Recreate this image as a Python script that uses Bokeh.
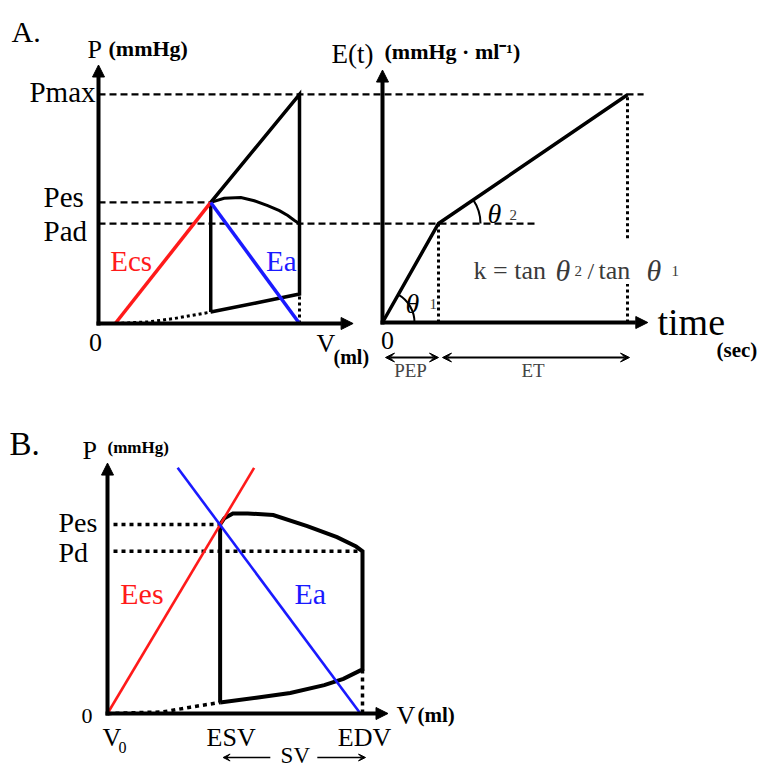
import math
from bokeh.plotting import figure
from bokeh.models import Range1d, Arrow, NormalHead, VeeHead
from bokeh.core.properties import value
from bokeh.embed import file_html
from bokeh.resources import INLINE

# ======================= DATA =======================
# Panel A (left): pressure-volume diagram (V in ml, P in mmHg)
A_V0, A_ESV, A_EDV = 10, 67, 120
A_PMAX, A_PES, A_PAD = 140, 74, 61
A_LOOP_V = [67, 94, 120, 120, 67, 67]          # filling -> isovolumic -> ejection line -> relaxation
A_LOOP_P = [7, 12.5, 18, 140, 74, 7]
A_EJECT_CURVE_V = [67, 75, 85, 93, 101, 108, 113, 117, 120]
A_EJECT_CURVE_P = [74, 76.5, 77, 75, 72, 69, 66, 63, 61]
A_EDPVR_V = [10, 30, 45, 67]
A_EDPVR_P = [0, 1, 3, 7]
A_EDV_DROP_P = [0, 18]
A_EES_V, A_EES_P = [10, 67], [0, 74]
A_EA_V, A_EA_P = [67, 120], [74, 0]
A_V_AXIS_MAX, A_P_AXIS_MAX = 152, 158

# Panel A (right): time-varying elastance (t in sec, E in mmHg/ml)
E_T = [0, 0.08, 0.35]
E_E = [0, 1.0, 2.3]
T_PEP, T_END = 0.08, 0.35
E_PEP, E_MAX = 1.0, 2.3
T_AXIS_MAX, E_AXIS_MAX = 0.379, 2.55

# Panel B: pressure-volume loop (V in ml, P in mmHg)
B_V0, B_ESV, B_EDV = 0, 53, 120
B_PES, B_PD = 120, 103
B_FILL_V = [53, 70, 86, 102, 111, 120]
B_FILL_P = [7, 10, 13, 18, 22, 28]
B_EJECT_V = [53, 55, 59, 66, 78, 94, 108, 117, 120]
B_EJECT_P = [120, 124, 127, 127, 126, 119, 112, 106, 103]
B_EDPVR_V = [0, 26, 39, 53]
B_EDPVR_P = [0, 1, 4, 7]
B_EES_V, B_EES_P = [0, 69], [0, 156]
B_EA_V, B_EA_P = [33, 119], [156, 0]
B_V_AXIS_MAX, B_P_AXIS_MAX = 132, 159

# ======================= LAYOUT =======================
X0, Y0 = 0, 0
W, H = 764, 770
# panel origin on the page (px) and pixels per data unit
PANELS = {
    "A1": (98, 323, 1.675, 1.636),
    "A2": (382, 322, 700.0, 99.0),
    "B": (107, 713, 2.125, 1.575),
}

def px(name, v):
    ox, oy, sx, sy = PANELS[name]
    return ox + v * sx

def unpx(name, x):
    ox, oy, sx, sy = PANELS[name]
    return (x - ox) / sx

def dx(name, pixels):
    return pixels / PANELS[name][2]

def dy(name, pixels):
    return pixels / PANELS[name][3]

p = figure(width=W, height=H,
           x_range=Range1d(X0, X0 + W), y_range=Range1d(Y0 + H, Y0),
           output_backend="svg", toolbar_location=None, min_border=0,
           x_axis_location=None, y_axis_location=None,
           outline_line_color=None, background_fill_color="white",
           border_fill_color="white")
p.xgrid.visible = False
p.ygrid.visible = False

p.extra_x_ranges = {n: Range1d((X0 - ox) / sx, (X0 + W - ox) / sx)
                    for n, (ox, oy, sx, sy) in PANELS.items()}
p.extra_y_ranges = {n: Range1d((oy - (Y0 + H)) / sy, (oy - Y0) / sy)
                    for n, (ox, oy, sx, sy) in PANELS.items()}

SERIF = "Liberation Serif"
RED = "#ff1a1a"
BLUE = "#1a1aff"
GRAY = "#3a3a3a"


def L(name, xs, ys, color="black", width=3.5, dash="solid", join="miter"):
    p.line(x=list(xs), y=list(ys), line_color=color, line_width=width,
           line_dash=dash, line_join=join, x_range_name=name, y_range_name=name)


def T(name, x, y, s, size, color="black", align="left", baseline="middle",
      style="normal", xo=0, yo=0, font=SERIF):
    p.text(x=[x], y=[y], text=[s], text_font=value(font),
           text_font_size=f"{size}px", text_color=color, text_align=align,
           text_baseline=baseline, text_font_style=style,
           x_offset=xo, y_offset=yo, x_range_name=name, y_range_name=name)


def ARROW(name, x0, y0, x1, y1, width=4, size=12, both=False, kind="normal"):
    Head = NormalHead if kind == "normal" else VeeHead
    mk = lambda: Head(size=size, fill_color="black", line_color="black", line_width=1)
    p.add_layout(Arrow(x_start=x0, y_start=y0, x_end=x1, y_end=y1,
                       line_width=width, line_color="black",
                       end=mk(), start=mk() if both else None,
                       x_range_name=name, y_range_name=name))


def axes(name, xmax, ymax):
    ARROW(name, -dx(name, 2), 0, xmax, 0)
    ARROW(name, 0, -dy(name, 2), 0, ymax)

# ---------------- Panel A left ----------------
a2_pmax_end = unpx("A1", px("A2", 0.373))
a2_pad_end = unpx("A1", px("A2", 0.221))
L("A1", [0, a2_pmax_end], [A_PMAX, A_PMAX], width=2.2, dash="7 4")
L("A1", [0, a2_pad_end], [A_PAD, A_PAD], width=2.2, dash="7 4")
L("A1", [0, A_ESV], [A_PES, A_PES], width=2.2, dash="7 4")
L("A1", A_EDPVR_V, A_EDPVR_P, width=3, dash="3 3")
L("A1", [A_EDV, A_EDV], A_EDV_DROP_P, width=3, dash="3 3")
L("A1", A_LOOP_V, A_LOOP_P, width=3.5)
L("A1", A_EJECT_CURVE_V, A_EJECT_CURVE_P, width=3)
L("A1", A_EES_V, A_EES_P, color=RED, width=3.5)
L("A1", A_EA_V, A_EA_P, color=BLUE, width=3.5)
axes("A1", A_V_AXIS_MAX, A_P_AXIS_MAX)

T("A1", 0, A_PMAX, "Pmax", 29, align="right", xo=-3, yo=-2)
T("A1", 0, A_PES, "Pes", 29, xo=-55, yo=-5)
T("A1", 0, A_PAD, "Pad", 29, xo=-55, yo=7)
T("A1", 0, 0, "0", 26, align="center", xo=-3, yo=19)
T("A1", 7, 0, "Ecs", 29, color=RED, yo=-63)
T("A1", 100, 0, "Ea", 29, color=BLUE, yo=-63)

# ---------------- Panel A right ----------------
L("A2", [T_PEP, T_PEP], [0, E_PEP], width=3, dash="3 3")
L("A2", [T_END, T_END], [0, 0.39], width=3, dash="3 3")
L("A2", [T_END, T_END], [0.85, E_MAX], width=3, dash="3 3")
L("A2", E_T, E_E, width=3.5)
axes("A2", T_AXIS_MAX, E_AXIS_MAX)

_, _, sxe, sye = PANELS["A2"]
ang1 = math.atan2((E_E[1] - E_E[0]) * sye, (E_T[1] - E_T[0]) * sxe)
ang2 = math.atan2((E_E[2] - E_E[1]) * sye, (E_T[2] - E_T[1]) * sxe)
p.arc(x=[E_T[0]], y=[E_E[0]], radius=32, radius_units="screen", start_angle=0,
      end_angle=ang1, line_color="black", line_width=2,
      x_range_name="A2", y_range_name="A2")
p.arc(x=[E_T[1]], y=[E_E[1]], radius=42, radius_units="screen", start_angle=0,
      end_angle=ang2, line_color="black", line_width=2,
      x_range_name="A2", y_range_name="A2")

yarr = -dy("A2", 35)
ARROW("A2", dx("A2", 3), yarr, T_PEP, yarr, width=2, size=9, both=True, kind="vee")
ARROW("A2", T_PEP + dx("A2", 4), yarr, T_END + dx("A2", 2), yarr, width=2, size=9,
      both=True, kind="vee")
T("A2", T_PEP / 2, 0, "PEP", 19, color="#444444", align="center", yo=48)
T("A2", (T_PEP + T_END) / 2, 0, "ET", 19, color="#444444", align="center", yo=48)
T("A2", 0, 0, "0", 26, align="center", xo=5, yo=18)

# formula and angle labels (page pixels)
T("default", 405, 303, "θ", 28, style="italic", baseline="alphabetic")
T("default", 429, 303, "1", 15, color=GRAY, baseline="alphabetic")
T("default", 487, 213, "θ", 28, style="italic", baseline="alphabetic")
T("default", 509, 214, "2", 15, color=GRAY, baseline="alphabetic")
T("default", 473, 270, "k = tan", 26, color=GRAY, baseline="alphabetic")
T("default", 555, 270, "θ", 30, color=GRAY, style="italic", baseline="alphabetic")
T("default", 574, 270, "2", 15, color=GRAY, baseline="alphabetic")
T("default", 587, 270, "/", 24, color=GRAY, baseline="alphabetic")
T("default", 598, 270, "tan", 26, color=GRAY, baseline="alphabetic")
T("default", 646, 270, "θ", 30, color=GRAY, style="italic", baseline="alphabetic")
T("default", 671, 270, "1", 15, color=GRAY, baseline="alphabetic")

# ---------------- Panel B ----------------
L("B", [dx("B", 6), B_ESV], [B_PES, B_PES], width=3.5, dash="4 4")
L("B", [dx("B", 6), B_EDV], [B_PD, B_PD], width=3.5, dash="4 4")
L("B", B_EDPVR_V, B_EDPVR_P, width=3.5, dash="4 4")
L("B", [B_EDV, B_EDV], [0, B_FILL_P[-1]], width=3.5, dash="4 4")
L("B", B_FILL_V + B_EJECT_V[::-1] + [B_ESV], B_FILL_P + B_EJECT_P[::-1] + [B_FILL_P[0]],
  width=4)
L("B", B_EES_V, B_EES_P, color=RED, width=2.6)
L("B", B_EA_V, B_EA_P, color=BLUE, width=2.6)
axes("B", B_V_AXIS_MAX, B_P_AXIS_MAX)

T("B", 0, B_PES, "Pes", 28, xo=-49, yo=-2)
T("B", 0, B_PD, "Pd", 28, xo=-49, yo=1)
T("B", 0, 0, "0", 22, align="right", xo=-15, yo=2)
T("B", 0, 0, "V", 26, xo=-5, yo=24)
T("B", 0, 0, "0", 16, xo=11, yo=34)
T("B", B_ESV, 0, "ESV", 26, align="center", xo=11, yo=24)
T("B", B_EDV, 0, "EDV", 26, align="center", xo=2, yo=24)
T("B", 6, 0, "Ees", 30, color=RED, yo=-120)
T("B", 88, 0, "Ea", 30, color=BLUE, yo=-120)
mid = (B_ESV + B_EDV) / 2
ysv = -dy("B", 44)
ARROW("B", mid - dx("B", 21), ysv, B_ESV + dx("B", 3), ysv, width=1.6, size=7, kind="vee")
ARROW("B", mid + dx("B", 26), ysv, B_EDV + dx("B", 3), ysv, width=1.6, size=7, kind="vee")
T("B", mid, 0, "SV", 23, align="center", xo=4, yo=42)

# ---------------- titles (page pixels) ----------------
T("default", 11, 31, "A.", 30)
T("default", 9, 443, "B.", 33)
T("default", 87, 49, "P", 26)
T("default", 108, 48, "(mmHg)", 22, style="bold")
T("default", 316, 343, "V", 26)
T("default", 333, 356, "(ml)", 20, style="bold")
T("default", 331, 53, "E(t)", 27)
T("default", 384, 51, "(mmHg · ml⁻¹)", 22, style="bold")
T("default", 657, 321, "time", 38)
T("default", 716, 349, "(sec)", 21, style="bold")
T("default", 82, 450, "P", 26)
T("default", 107, 447, "(mmHg)", 17, style="bold")
T("default", 396, 715, "V", 26)
T("default", 417, 714, "(ml)", 21, style="bold")

open("out.html", "w").write(file_html(p, INLINE))
